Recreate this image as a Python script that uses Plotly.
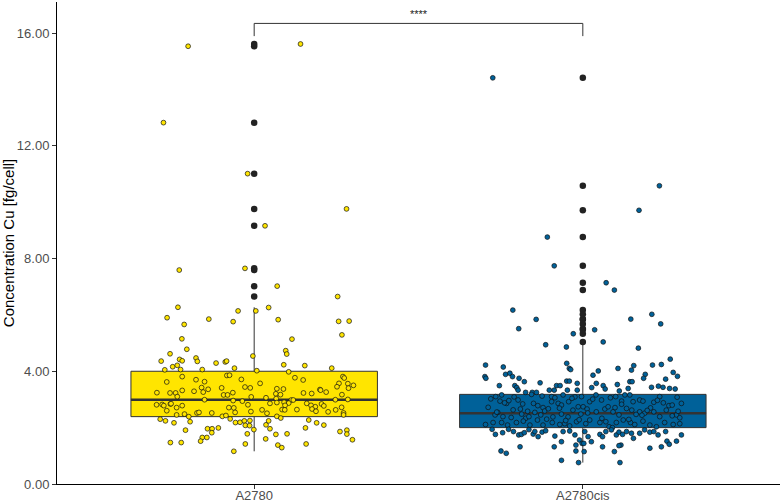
import plotly.graph_objects as go

# ---------------- data ----------------
categories = ["A2780", "A2780cis"]

# A2780: measured values and horizontal jitter (category units)
a2780_vals = [
    15.53, 15.61, 12.82, 11.01, 9.76, 9.16,
    7.59, 7.65, 7.02, 6.65, 6.27, 6.14, 6.14, 6.26, 5.90, 5.85, 5.83, 5.77, 5.78, 5.66,
    5.76, 5.29, 5.15, 5.14, 4.78, 4.73, 4.61, 4.62, 4.54, 4.36, 4.42, 4.37, 4.47, 4.35,
    4.29, 4.33, 4.36, 4.23, 4.20, 4.16, 4.21, 4.05, 4.06, 4.06, 4.11, 4.02, 3.98, 4.11,
    3.81, 3.85, 3.86, 3.70, 3.63, 3.71, 3.77, 3.69, 3.62, 3.57, 3.81, 3.76, 3.57, 3.45,
    3.56, 3.50, 3.40, 3.41, 3.44, 3.41, 3.42, 3.36, 3.32, 3.38, 3.37, 3.35, 3.33, 3.26,
    3.23, 3.21, 3.24, 3.23, 3.23, 3.10, 3.29, 3.26, 3.16, 3.16, 3.24, 2.96, 3.09, 3.06,
    3.20, 3.17, 3.03, 3.17, 2.99, 2.94, 2.98, 2.98, 2.99, 3.00, 2.81, 2.82, 2.78, 2.84,
    2.85, 2.78, 2.71, 2.71, 2.70, 2.81, 2.86, 2.89, 2.90, 2.87, 2.79, 2.86, 2.79, 2.74,
    2.84, 2.77, 2.63, 2.51, 2.64, 2.63, 2.64, 2.66, 2.58, 2.56, 2.63, 2.72, 2.52, 2.45,
    2.60, 2.45, 2.48, 2.39, 2.52, 2.54, 2.52, 2.40, 2.43, 2.54, 2.57, 2.40, 2.34,
    2.30, 2.24, 2.17, 2.21, 2.31, 2.18, 2.19, 2.24, 2.08, 2.07, 2.25, 2.10, 2.24, 1.96,
    2.27, 2.17, 2.09, 1.99, 1.91, 1.96, 1.96, 1.99, 1.82, 1.93, 1.78, 1.76, 1.78, 1.86,
    1.91, 1.77, 1.65, 1.65, 1.52, 1.60, 1.57, 1.47, 1.47, 1.42, 1.38, 1.29, 1.42, 1.16,
]
a2780_jit = [
    -0.201, 0.141, -0.276, -0.020, 0.281, 0.033,
    -0.228, -0.028, 0.070, 0.254, -0.232, -0.049, 0.005, 0.044, -0.265, -0.138, 0.073, 0.257, 0.289, -0.213,
    -0.064, 0.267, -0.220, 0.115, -0.205, 0.096, 0.099, -0.256, -0.004, -0.283, -0.227, -0.219, -0.177, -0.173,
    -0.116, -0.088, -0.084, 0.090, 0.154, -0.248, -0.234, -0.272, -0.224, -0.158, -0.060, 0.008, 0.105, 0.236,
    -0.219, -0.083, -0.075, -0.177, -0.151, -0.039, 0.124, 0.149, -0.266, 0.018, 0.270, 0.274, 0.258, 0.252,
    0.285, 0.302, 0.287, -0.099, -0.028, -0.012, -0.160, -0.140, -0.219, 0.069, 0.089, 0.200, 0.202, 0.219,
    0.150, 0.175, -0.296, -0.256, -0.239, -0.234, -0.183, -0.155, -0.093, -0.081, -0.065, -0.064, -0.009, 0.036,
    0.066, 0.080, 0.067, 0.267, -0.151, -0.036, 0.113, 0.119, 0.247, 0.285, -0.297, -0.280, -0.275, -0.255,
    -0.253, -0.219, -0.236, -0.077, -0.062, -0.019, 0.048, 0.069, 0.091, 0.105, 0.094, 0.160, 0.173, 0.186,
    0.205, 0.212, 0.024, 0.039, 0.085, 0.093, 0.130, 0.176, 0.188, 0.225, 0.248, 0.266, 0.272, 0.272,
    -0.266, -0.236, -0.212, -0.199, -0.174, -0.168, -0.129, -0.097, -0.086, -0.058, -0.010, 0.069, 0.081,
    -0.286, -0.270, -0.244, -0.195, -0.073, -0.057, -0.043, -0.030, -0.027, -0.014, -0.013, 0.036, 0.044, 0.048,
    0.166, 0.190, 0.212, 0.156, -0.209, -0.142, -0.128, -0.109, -0.129, -0.001, -0.021, 0.066, 0.100, 0.261,
    0.282, 0.282, -0.158, -0.144, -0.163, 0.035, 0.299, -0.255, -0.222, -0.027, 0.072, 0.084, 0.158, -0.062,
]

# A2780cis: measured values and horizontal jitter (category units)
cis_vals = [
    14.41, 10.58, 9.71, 8.76, 7.74, 7.14, 6.88, 6.17, 5.84, 5.51, 5.85, 6.02, 5.68, 5.47,
    5.33, 5.04, 4.94, 4.86, 4.82,
    # left half
    4.22, 3.81, 3.75, 4.15, 3.89, 3.93, 3.81, 3.75, 3.63, 3.49, 3.49, 3.42, 3.33, 4.28,
    4.10, 4.06, 3.65, 3.65, 3.59, 3.49, 3.49, 3.57, 3.33, 3.33, 3.33, 3.33, 3.25, 3.25, 3.25,
    3.10, 3.16, 3.09, 3.18, 3.12, 3.10, 3.06, 3.16, 3.09, 3.10,
    2.72, 2.94, 2.86, 2.98, 2.84, 2.86, 2.71, 2.92, 2.86, 2.80, 2.92, 2.74,
    2.45, 2.54, 2.39, 2.63, 2.48, 2.33, 2.39, 2.54, 2.45, 2.59, 2.38, 2.48, 2.38, 2.62, 2.48,
    2.11, 2.18, 2.18, 2.09, 2.18, 2.23, 2.09, 2.27, 2.09, 2.18, 2.11, 2.14, 2.06, 2.21,
    3.02, 2.96, 2.66, 2.58, 2.78, 2.30, 2.69, 2.25, 3.04, 2.55, 2.88, 2.36, 2.67, 2.28,
    1.94, 1.76, 1.82, 1.94, 1.86, 1.74, 1.76, 1.82, 1.93, 1.77, 1.86, 1.68, 1.84, 1.89,
    1.70, 1.86, 1.88, 1.74, 1.56, 1.44, 1.32, 1.32, 1.50, 1.38, 1.17, 1.09, 1.17, 0.84, 0.76,
    # right half
    4.43, 4.22, 4.24, 4.20, 4.10, 4.04, 4.01, 3.86, 3.89, 3.75, 3.96, 3.82, 3.72, 3.63,
    3.63, 3.53, 3.57, 3.42, 3.49, 3.37, 3.39, 3.43, 3.47, 3.43, 3.39, 3.37, 3.30,
    2.92, 3.16, 2.98, 3.06, 3.10, 3.16, 3.16, 2.98, 2.94, 2.90, 3.10, 2.78, 2.80, 3.08,
    2.86, 2.94, 2.92,
    2.74, 2.66, 2.56, 2.66, 2.74, 2.56, 2.45, 2.68, 2.62, 2.56, 2.51, 2.70, 2.39, 2.62,
    2.45, 2.35, 2.56,
    2.14, 2.27, 2.18, 2.03, 2.00, 2.18, 2.27, 2.18, 2.11, 2.23, 2.09, 2.03, 2.18, 2.11, 2.14,
    3.01, 2.83, 2.47, 2.33, 2.61, 2.88, 2.42, 2.29, 2.97, 2.52, 2.71, 2.21, 2.58, 2.44,
    1.86, 1.68, 1.44, 1.15, 1.50, 1.76, 1.68, 1.86, 1.92, 1.74, 1.84, 1.76, 1.86, 1.80,
    1.62, 1.80, 1.92, 1.84, 1.86, 1.74, 1.86, 1.52, 1.41, 1.52, 1.74, 1.27, 1.32, 1.38,
    1.36, 1.32, 1.15, 0.76,
]
cis_jit = [
    -0.274, 0.233, 0.171, -0.108, -0.087, 0.071, 0.096, -0.213, -0.142, -0.195, 0.146, 0.210, 0.237, 0.036,
    -0.029, 0.062, -0.113, -0.050, 0.169,
    # left half
    -0.296, -0.298, -0.295, -0.242, -0.235, -0.222, -0.214, -0.194, -0.178, -0.254, -0.207, -0.201, -0.197, -0.049,
    -0.041, -0.037, -0.049, -0.041, -0.130, -0.080, -0.069, -0.017, -0.102, -0.087, -0.047, -0.017, -0.154, -0.141, -0.174,
    -0.265, -0.247, -0.209, -0.156, -0.124, -0.095, -0.085, -0.060, -0.024, -0.004,
    -0.288, -0.252, -0.232, -0.197, -0.183, -0.150, -0.121, -0.095, -0.075, -0.065, -0.043, -0.014,
    -0.267, -0.259, -0.243, -0.212, -0.186, -0.174, -0.164, -0.146, -0.128, -0.116, -0.091, -0.065, -0.045, -0.030, -0.006,
    -0.296, -0.273, -0.247, -0.229, -0.202, -0.181, -0.161, -0.138, -0.121, -0.093, -0.070, -0.055, -0.040, -0.019,
    -0.280, -0.225, -0.190, -0.168, -0.137, -0.110, -0.071, -0.052, -0.033, -0.262, -0.238, -0.218, -0.105, -0.011,
    -0.276, -0.266, -0.244, -0.226, -0.211, -0.195, -0.187, -0.178, -0.164, -0.151, -0.146, -0.136, -0.124, -0.113,
    -0.085, -0.060, -0.040, -0.024, -0.010, -0.002, -0.191, -0.087, -0.065, -0.021, -0.249, -0.233, -0.021, -0.065, -0.013,
    # right half
    0.266, 0.212, 0.239, 0.155, 0.107, 0.148, 0.047, 0.031, 0.190, 0.185, 0.275, 0.288, 0.252, 0.143,
    0.150, 0.105, 0.041, 0.027, 0.062, 0.068, 0.138, 0.209, 0.230, 0.244, 0.264, 0.281, 0.111,
    0.021, 0.040, 0.057, 0.084, 0.100, 0.128, 0.143, 0.173, 0.183, 0.216, 0.234, 0.262, 0.272, 0.287,
    0.300, 0.118, 0.153,
    0.001, 0.013, 0.041, 0.067, 0.077, 0.092, 0.110, 0.133, 0.149, 0.173, 0.188, 0.206, 0.234, 0.254,
    0.285, 0.295, 0.216,
    0.009, 0.021, 0.052, 0.080, 0.090, 0.102, 0.123, 0.145, 0.158, 0.183, 0.204, 0.224, 0.249, 0.275, 0.295,
    0.030, 0.118, 0.162, 0.058, 0.196, 0.245, 0.272, 0.140, 0.227, 0.015, 0.098, 0.070, 0.290, 0.180,
    0.006, 0.016, 0.003, 0.004, 0.026, 0.052, 0.060, 0.070, 0.087, 0.102, 0.110, 0.121, 0.133, 0.148,
    0.154, 0.173, 0.188, 0.204, 0.216, 0.229, 0.252, 0.256, 0.263, 0.285, 0.300, 0.204, 0.239, 0.116,
    0.110, 0.060, 0.096, 0.113,
]

# box statistics: [A2780, A2780cis]
box_q1 = [2.39, 2.00]
box_median = [2.99, 2.51]
box_q3 = [4.00, 3.18]
box_lower = [1.16, 0.76]
box_upper = [6.27, 4.95]

fills = ["#FFE500", "#006199"]

sig_label = "****"
sig_y = 16.34
sig_tick = 15.89

# ---------------- figure ----------------
fig = go.Figure()
pos = [1, 2]
box_w = 0.75
groups = [(a2780_vals, a2780_jit), (cis_vals, cis_jit)]

for i, cat in enumerate(categories):
    fig.add_trace(go.Box(
        x=[pos[i]], q1=[box_q1[i]], median=[box_median[i]], q3=[box_q3[i]],
        lowerfence=[box_lower[i]], upperfence=[box_upper[i]],
        width=box_w, whiskerwidth=0, fillcolor=fills[i],
        line=dict(color="#333333", width=1), boxpoints=False,
        hoverinfo="skip", showlegend=False,
    ))
    # thicker median line, as in ggplot
    fig.add_trace(go.Scatter(
        x=[pos[i] - box_w / 2, pos[i] + box_w / 2], y=[box_median[i]] * 2,
        mode="lines", line=dict(color="#333333", width=2.4),
        hoverinfo="skip", showlegend=False,
    ))
    vals, _ = groups[i]
    outl = [v for v in vals if v > box_upper[i] or v < box_lower[i]]
    fig.add_trace(go.Scatter(
        x=[pos[i]] * len(outl), y=outl, mode="markers",
        marker=dict(color="#222222", size=6.5),
        hoverinfo="skip", showlegend=False,
    ))

for i, cat in enumerate(categories):
    vals, jit = groups[i]
    fig.add_trace(go.Scatter(
        x=[pos[i] + j for j in jit], y=vals, mode="markers",
        marker=dict(color=fills[i], size=4.8, line=dict(color="#111111", width=0.7)),
        name=cat, showlegend=False,
    ))

# significance bracket
fig.add_trace(go.Scatter(
    x=[pos[0], pos[0], pos[1], pos[1]], y=[sig_tick, sig_y, sig_y, sig_tick],
    mode="lines", line=dict(color="#333333", width=1),
    hoverinfo="skip", showlegend=False,
))
fig.add_annotation(
    x=(pos[0] + pos[1]) / 2, y=sig_y, yshift=9, text=sig_label, showarrow=False,
    font=dict(size=11, color="#222222", family="Liberation Sans, Arial, sans-serif"),
)

fig.update_layout(
    width=782, height=502,
    margin=dict(l=57, r=2, t=2, b=18),
    paper_bgcolor="white", plot_bgcolor="white",
    font=dict(family="Liberation Sans, Arial, sans-serif"),
    xaxis=dict(
        range=[0.4, 2.6], tickvals=pos, ticktext=categories,
        showline=True, linecolor="black", linewidth=1,
        ticks="outside", ticklen=4, tickcolor="#333333",
        showgrid=False, zeroline=False, automargin=False,
        ticklabelstandoff=-5,
        tickfont=dict(size=13, color="#4D4D4D"),
    ),
    yaxis=dict(
        range=[0, 17.1], tickvals=[0, 4, 8, 12, 16], tickformat=".2f",
        showline=True, linecolor="black", linewidth=1,
        ticks="outside", ticklen=4, tickcolor="#333333",
        showgrid=False, zeroline=False,
        tickfont=dict(size=13, color="#4D4D4D"),
        title=dict(text="Concentration Cu [fg/cell]", font=dict(size=15, color="black"), standoff=1),
        automargin=False,
    ),
)

fig.write_html("out.html", config={"displayModeBar": False},
               post_script="document.body.style.margin='0';")
